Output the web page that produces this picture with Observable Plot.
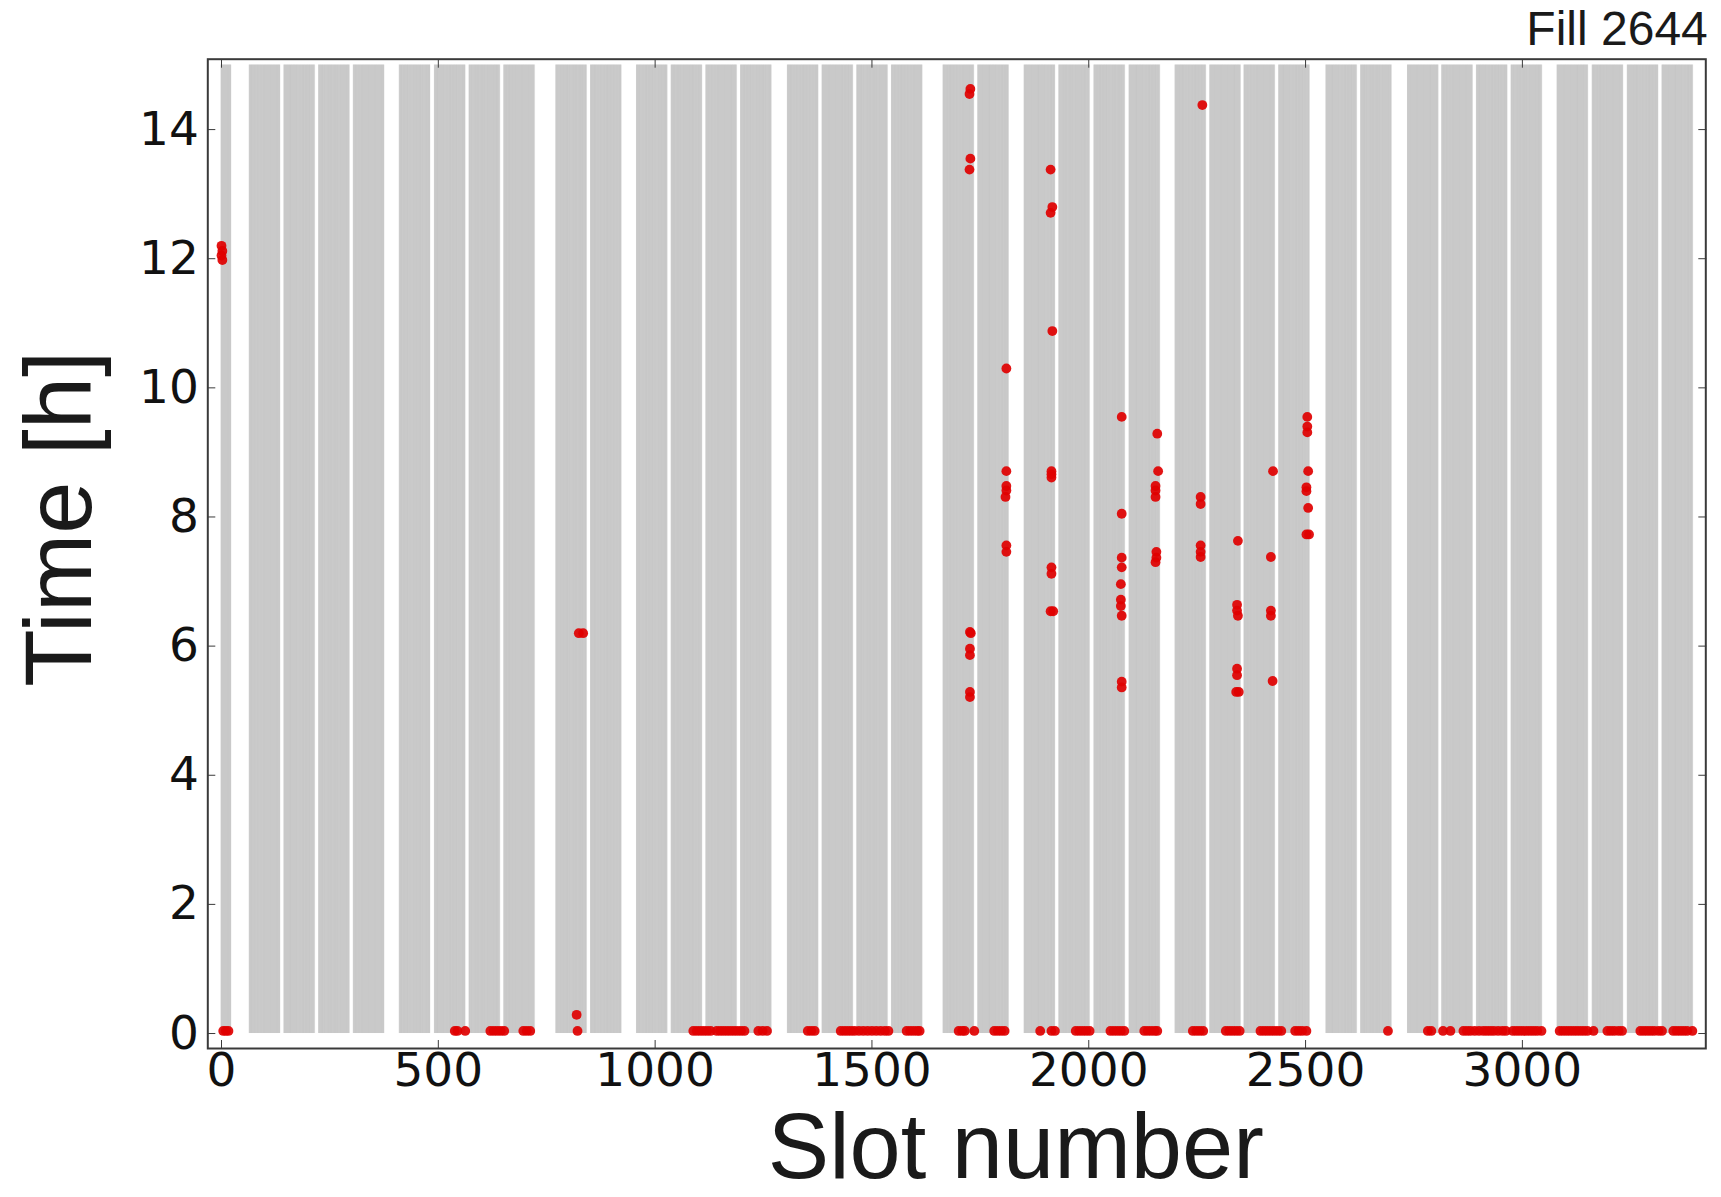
<!DOCTYPE html>
<html>
<head>
<meta charset="utf-8">
<script src="https://cdn.jsdelivr.net/npm/d3@7"></script>
<script src="https://cdn.jsdelivr.net/npm/@observablehq/plot@0.6"></script>
<style>
  html, body { margin: 0; padding: 0; background: #fff; }
  #chart svg { display: block; }
</style>
</head>
<body>
<div id="chart"></div>
<script>
// ---- data ----
const title = "Fill 2644";
const xLabel = "Slot number";
const yLabel = "Time [h]";
const xTicks = [0, 500, 1000, 1500, 2000, 2500, 3000];
const yTicks = [0, 2, 4, 6, 8, 10, 12, 14];

// filled bunch batches (first slot, number of bunches at 50 ns = every 2 slots)
const batchStart = [0, 65, 145, 225, 305, 411, 492, 572, 652, 772, 852, 958, 1038, 1118, 1198,
  1306, 1386, 1466, 1546, 1665, 1745, 1852, 1932, 2013, 2094, 2200, 2280, 2359, 2439,
  2548, 2628, 2736, 2815, 2895, 2975, 3081, 3162, 3243, 3323];
const batchSize = [12, 36, 36, 36, 36, 36, 36, 36, 36, 36, 36, 36, 36, 36, 36,
  36, 36, 36, 36, 36, 36, 36, 36, 36, 36, 36, 36, 36, 36,
  36, 36, 36, 36, 36, 36, 36, 36, 36, 36];
const bunchSpacing = 2;
const barTop = 15;

// events near t = 0
const zeroSlots = [4, 10, 16, 538, 544, 562, 620, 628, 636, 644, 652, 696, 704, 712, 821,
  1088, 1096, 1104, 1112, 1120, 1128, 1142, 1150, 1158, 1166, 1174, 1182, 1190, 1198, 1206,
  1238, 1248, 1258, 1352, 1360, 1368, 1428, 1436, 1444, 1452, 1460, 1470, 1480, 1490, 1500, 1510, 1520, 1530, 1538,
  1580, 1588, 1596, 1604, 1610, 1700, 1708, 1714, 1736, 1782, 1790, 1798, 1806, 1888, 1914, 1922,
  1970, 1978, 1986, 1994, 2002, 2050, 2058, 2066, 2074, 2082, 2128, 2136, 2144, 2152, 2158,
  2240, 2248, 2256, 2264, 2316, 2324, 2332, 2340, 2348, 2396, 2404, 2412, 2420, 2428, 2436, 2444,
  2476, 2484, 2492, 2502, 2690, 2782, 2790, 2817, 2834,
  2864, 2872, 2880, 2890, 2900, 2910, 2918, 2926, 2934, 2944, 2954, 2962,
  2978, 2986, 2994, 3002, 3010, 3018, 3026, 3034, 3044,
  3086, 3094, 3102, 3110, 3118, 3126, 3134, 3142, 3150, 3164,
  3196, 3204, 3212, 3222, 3230, 3272, 3280, 3288, 3296, 3304, 3314, 3322,
  3348, 3356, 3364, 3372, 3380, 3392];
const zeroTime = 0.04;

// later events
const eventSlot = [0, 2, 0, 2, 819, 824, 834,
  1727, 1725, 1727, 1725, 1726, 1728, 1726, 1726, 1726, 1726,
  1810, 1810, 1810, 1810, 1808, 1810, 1810,
  1912, 1916, 1912, 1916, 1914, 1914, 1914, 1914, 1914, 1912, 1918,
  2076, 2076, 2076, 2076, 2074, 2074, 2074, 2076, 2076, 2076,
  2158, 2160, 2154, 2154, 2154, 2156, 2156, 2154,
  2262, 2258, 2258, 2258, 2258, 2258,
  2344, 2342, 2342, 2344, 2342, 2342, 2340, 2346,
  2425, 2420, 2420, 2420, 2424,
  2504, 2504, 2504, 2506, 2502, 2502, 2506, 2502, 2508];
const eventTime = [12.2, 12.12, 12.05, 11.98, 0.29, 6.2, 6.2,
  14.63, 14.55, 13.55, 13.38, 6.22, 6.2, 5.96, 5.86, 5.29, 5.21,
  10.3, 8.71, 8.48, 8.41, 8.31, 7.56, 7.46,
  13.38, 12.8, 12.71, 10.88, 8.71, 8.66, 8.61, 7.22, 7.12, 6.54, 6.54,
  9.55, 8.05, 7.37, 7.22, 6.96, 6.72, 6.62, 6.47, 5.45, 5.36,
  9.29, 8.71, 8.48, 8.41, 8.31, 7.46, 7.37, 7.30,
  14.38, 8.31, 8.2, 7.56, 7.46, 7.38,
  7.63, 6.64, 6.55, 6.47, 5.65, 5.55, 5.29, 5.29,
  8.71, 7.38, 6.55, 6.47, 5.46,
  9.55, 9.40, 9.31, 8.71, 8.46, 8.40, 8.14, 7.73, 7.73];

// ---- tables built from the arrays ----
const batches = batchStart.map((s, i) => ({start: s, n: batchSize[i]}));
const bunches = batches.flatMap(b => d3.range(b.n).map(k => b.start + k * bunchSpacing));
const events = zeroSlots.map(s => ({slot: s, t: zeroTime}))
  .concat(eventSlot.map((s, i) => ({slot: s, t: eventTime[i]})));

const W = 1721, H = 1197;
const mL = 207.3, mR = 15.7, mT = 58.7, mB = 149;
const axisColor = "#3a3a3a";
const blank = () => "";
const intFmt = d3.format("d");

const chart = Plot.plot({
  width: W,
  height: H,
  marginLeft: mL,
  marginRight: mR,
  marginTop: mT,
  marginBottom: mB,
  style: {fontFamily: "'DejaVu Sans', sans-serif", fontSize: "47px", color: "#111", background: "#fff"},
  x: {domain: [-31.6, 3423], label: null},
  y: {domain: [-0.232, 15.09], label: null},
  marks: [
    Plot.rectY(batches, {x1: d => d.start - 1, x2: d => d.start + bunchSpacing * (d.n - 1) + 1, y1: 0, y2: barTop, fill: "#d0d0d0"}),
    Plot.ruleX(bunches, {x: d => d, y1: 0, y2: barTop, stroke: "#b4b4b4", strokeWidth: 0.5, strokeOpacity: 0.4}),
    Plot.dot(events, {x: "slot", y: "t", r: 4.9, fill: "#e00000", fillOpacity: 0.92, stroke: "none"}),
    // labels
    Plot.axisX({ticks: xTicks, tickSize: 0, tickPadding: 4, anchor: "bottom", fontSize: 47, tickFormat: intFmt, label: null}),
    Plot.axisY({ticks: yTicks, tickSize: 0, tickPadding: 9, anchor: "left", fontSize: 47, tickFormat: intFmt, label: null}),
    // inward ticks on all four sides
    Plot.axisX({ticks: xTicks, tickSize: -8, tickFormat: blank, anchor: "bottom", stroke: axisColor, label: null}),
    Plot.axisX({ticks: xTicks, tickSize: -8, tickFormat: blank, anchor: "top", stroke: axisColor, label: null}),
    Plot.axisY({ticks: yTicks, tickSize: -8, tickFormat: blank, anchor: "left", stroke: axisColor, label: null}),
    Plot.axisY({ticks: yTicks, tickSize: -8, tickFormat: blank, anchor: "right", stroke: axisColor, label: null}),
    Plot.frame({stroke: axisColor, strokeWidth: 2}),
    // axis titles and fill title
    Plot.text([xLabel], {frameAnchor: "bottom", text: d => d, textAnchor: "middle", dx: 59, dy: 129, lineAnchor: "bottom",
      fontFamily: "'Liberation Sans', Arial, sans-serif", fontSize: 92, fill: "#1a1a1a"}),
    Plot.text([yLabel], {frameAnchor: "left", text: d => d, textAnchor: "middle", rotate: -90, dx: -147, dy: -35, lineAnchor: "middle",
      fontFamily: "'Liberation Sans', Arial, sans-serif", fontSize: 94, fill: "#1a1a1a"}),
    Plot.text([title], {frameAnchor: "top-right", text: d => d, textAnchor: "end", lineAnchor: "bottom", dx: 2, dy: -14,
      fontFamily: "'Liberation Sans', Arial, sans-serif", fontSize: 48, fill: "#1a1a1a"})
  ]
});
document.getElementById("chart").appendChild(chart);
</script>
</body>
</html>
